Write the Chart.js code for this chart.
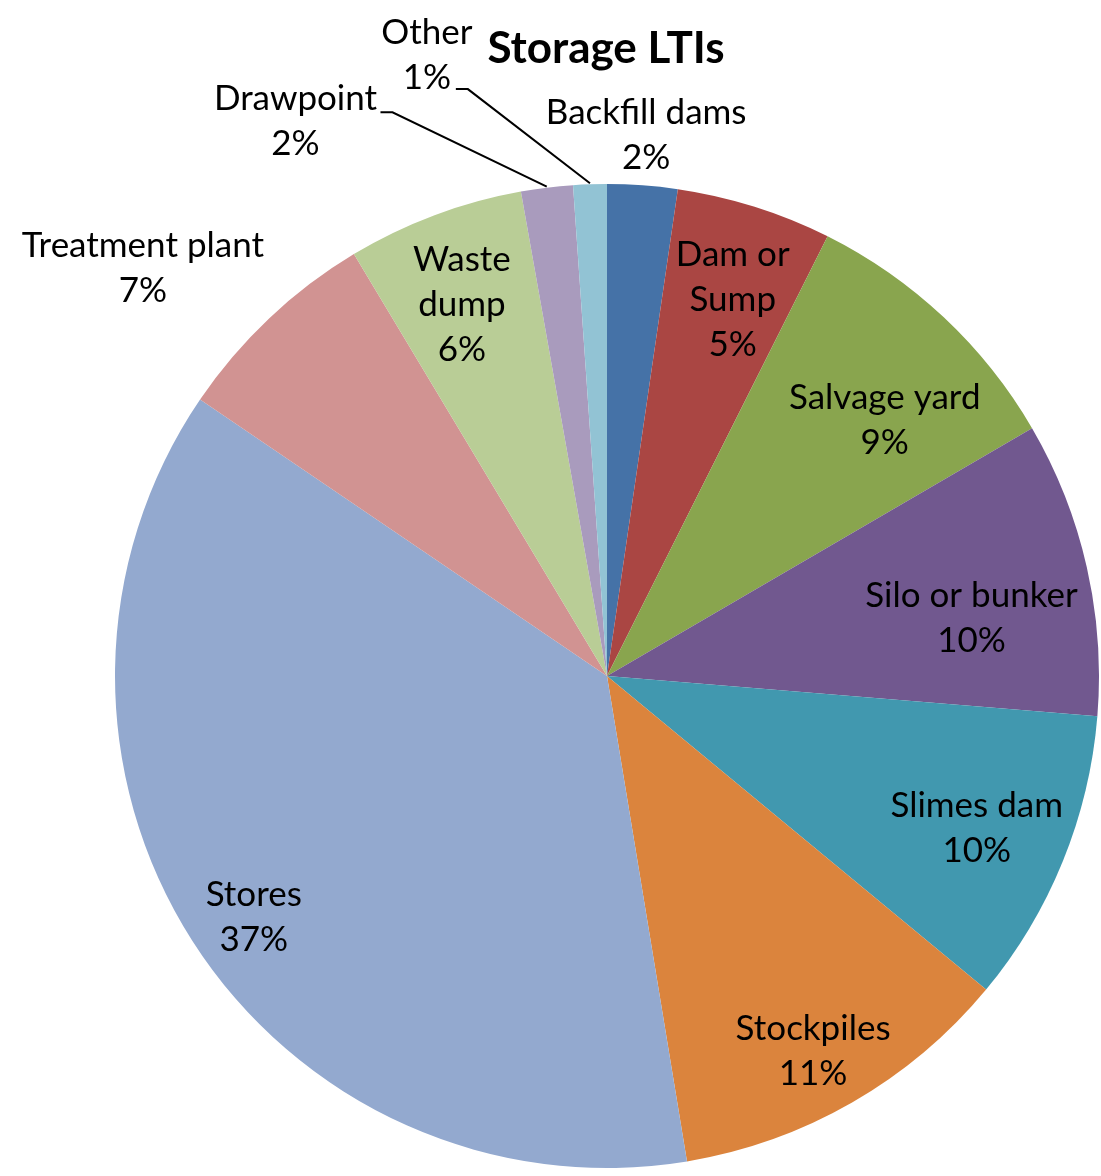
<!DOCTYPE html>
<html>
<head>
<meta charset="utf-8">
<script src="https://cdn.jsdelivr.net/npm/chart.js@4/dist/chart.umd.min.js"></script>
<style>
  html, body { margin: 0; padding: 0; background: #ffffff; }
  #wrap { width: 1101px; height: 1176px; position: relative; }
</style>
</head>
<body>
<div id="wrap"><canvas id="c" width="1101" height="1176"></canvas></div>
<script>
// ---- data ----
const title = 'Storage LTIs';
const categories = ['Backfill dams', 'Dam or Sump', 'Salvage yard', 'Silo or bunker', 'Slimes dam',
  'Stockpiles', 'Stores', 'Treatment plant', 'Waste dump', 'Drawpoint', 'Other'];
const shares = [2.3, 5.1, 9.2, 9.7, 9.7, 11.4, 37.1, 6.9, 5.8, 1.7, 1.1];
const colors = ['#4572A7', '#AA4643', '#89A54E', '#71588F', '#4198AF', '#DB843D',
  '#93A9CF', '#D19392', '#B9CD96', '#A99BBD', '#92C3D4'];

// ---- label placement (radius factor, angle nudge in degrees, line wrap, leader) ----
const labelWrap = { 'Dam or Sump': ['Dam or', 'Sump'], 'Waste dump': ['Waste', 'dump'] };
const labelPlace = [
  { f: 1.102, d: 0 },
  { f: 0.807, d: 1.0 },
  { f: 0.768, d: 4.1 },
  { f: 0.750, d: 3.8 },
  { f: 0.813, d: 0.3 },
  { f: 0.870, d: 1.1 },
  { f: 0.869, d: -1.7 },
  { f: 1.256, d: -5.3 },
  { f: 0.811, d: -0.8 },
  { f: 1.293, d: -22.3, leader: [85, -9] },
  { f: 1.314, d: -14.2, leader: [29, 34] }
];

const FONT = 'Lato, "Open Sans", sans-serif';
const LABEL_SIZE = 35;
const LINE_H = 45;

const labelPlugin = {
  id: 'pieLabels',
  afterDatasetsDraw(chart) {
    const ctx = chart.ctx;
    const meta = chart.getDatasetMeta(0);
    ctx.save();
    meta.data.forEach((arc, i) => {
      const p = arc.getProps(['x', 'y', 'startAngle', 'endAngle', 'outerRadius'], true);
      const mid = (p.startAngle + p.endAngle) / 2;
      const place = labelPlace[i];
      const a = mid + place.d * Math.PI / 180;
      const r = p.outerRadius * place.f;
      const cx = p.x + Math.cos(a) * r;
      const cy = p.y + Math.sin(a) * r;
      const lines = (labelWrap[categories[i]] || [categories[i]]).concat([Math.round(shares[i]) + '%']);
      ctx.fillStyle = '#000000';
      ctx.font = LABEL_SIZE + 'px ' + FONT;
      ctx.textAlign = 'center';
      ctx.textBaseline = 'middle';
      const top = cy - (lines.length - 1) * LINE_H / 2;
      lines.forEach((t, k) => ctx.fillText(t, cx, top + k * LINE_H));
      if (place.leader) {
        const sx = cx + place.leader[0];
        const sy = cy + place.leader[1];
        const ex = p.x + Math.cos(mid) * (p.outerRadius + 1);
        const ey = p.y + Math.sin(mid) * (p.outerRadius + 1);
        ctx.strokeStyle = '#000000';
        ctx.lineWidth = 2;
        ctx.beginPath();
        ctx.moveTo(sx, sy);
        ctx.lineTo(sx + 12, sy);
        ctx.lineTo(ex, ey);
        ctx.stroke();
      }
    });
    // title
    ctx.font = 'bold 44px ' + FONT;
    ctx.textAlign = 'center';
    ctx.textBaseline = 'middle';
    ctx.fillStyle = '#000000';
    ctx.fillText(title, 606, 49);
    ctx.restore();
  }
};

new Chart(document.getElementById('c'), {
  type: 'pie',
  data: {
    labels: categories,
    datasets: [{ data: shares, backgroundColor: colors, borderWidth: 0 }]
  },
  options: {
    responsive: false,
    animation: false,
    layout: { padding: { left: 115, right: 2, top: 184, bottom: 8 } },
    plugins: { legend: { display: false }, tooltip: { enabled: false }, title: { display: false } }
  },
  plugins: [labelPlugin]
});
</script>
</body>
</html>
